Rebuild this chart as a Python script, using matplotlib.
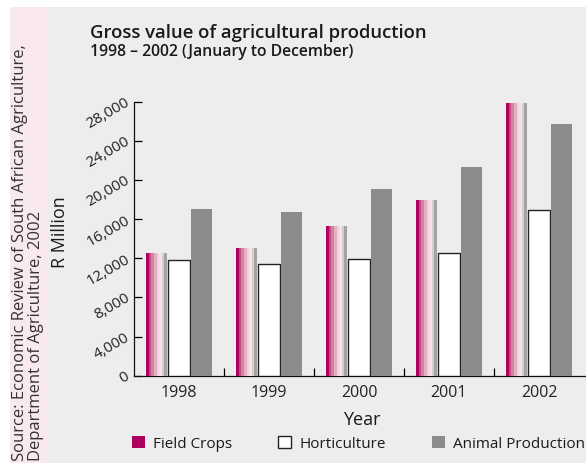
import numpy as np
import matplotlib.pyplot as plt
from matplotlib.patches import Rectangle
from matplotlib.ticker import FuncFormatter

plt.rcParams['font.family'] = ['Open Sans', 'DejaVu Sans']

# %% Data (R million)
years = ['1998', '1999', '2000', '2001', '2002']
field_crops = [12500, 13050, 15300, 17950, 27900]
horticulture = [11800, 11400, 11950, 12550, 16900]
animal_production = [17050, 16750, 19100, 21350, 25750]

W, H = 586, 463
fig = plt.figure(figsize=(W / 100, H / 100), dpi=100)
fig.patch.set_facecolor('white')

# background panels
fig.patches.append(Rectangle((47 / W, 0), 1, 1 - 7 / H, transform=fig.transFigure,
                             facecolor='#ededed', edgecolor='none', zorder=-10))
fig.patches.append(Rectangle((10 / W, 0), 37 / W, 1 - 7 / H, transform=fig.transFigure,
                             facecolor='#f9e9ed', edgecolor='none', zorder=-10))

# axes: 90 px per category, extends past the right edge like the original
px_unit = 90
x0 = 134
y_bot, y_top = 375.7, 101.7
ax = fig.add_axes([x0 / W, 1 - y_bot / H, 5.1 * px_unit / W, (y_bot - y_top) / H])
ax.set_facecolor('none')

x = np.arange(len(years))
bw = 0.235
off = 0.25

# field crops: striped gradient bar, each stripe drawn over the rest of the bar
stripes = ['#b0005f', '#c04d80', '#d2849f', '#e2b0c2', '#efd3dc',
           '#f3e3e8', '#d4cdd0', '#a3a3a3']
sw = bw / len(stripes)
left = x - off - bw / 2
for i, c in enumerate(stripes):
    ax.bar(left + sw * i, field_crops, width=bw - sw * i, align='edge',
           color=c, edgecolor='none', linewidth=0, zorder=3)

ax.bar(x, horticulture, width=bw, color='white', edgecolor='#222222',
       linewidth=1.0, zorder=3)
ax.bar(x + off, animal_production, width=bw, color='#8c8c8c',
       edgecolor='none', zorder=3)

ax.set_xlim(-0.5, 4.6)
ax.set_ylim(0, 28000)

ax.set_yticks(np.arange(0, 28001, 4000))
ax.yaxis.set_major_formatter(FuncFormatter(lambda v, p: f'{int(v):,}'))
ax.tick_params(axis='y', direction='in', length=6, width=0.9, pad=4,
               labelsize=11, labelcolor='#222222')
for lbl in ax.get_yticklabels():
    lbl.set_rotation(30)
    lbl.set_rotation_mode('anchor')
    lbl.set_ha('right')
    lbl.set_va('center')

ax.set_xticks(x)
ax.set_xticklabels(years)
ax.set_xticks(x[:-1] + 0.5, minor=True)
ax.tick_params(axis='x', which='major', length=0, pad=7, labelsize=11.5,
               labelcolor='#222222')
ax.tick_params(axis='x', which='minor', direction='in', length=6, width=0.9)

for s in ['top', 'right']:
    ax.spines[s].set_visible(False)
for s in ['left', 'bottom']:
    ax.spines[s].set_linewidth(0.9)
    ax.spines[s].set_color('#111111')

# titles
fig.text(90 / W, 1 - 38 / H, 'Gross value of agricultural production',
         fontsize=13.3, fontweight='semibold', color='#1a1a1a', va='baseline')
fig.text(90 / W, 1 - 56 / H, '1998 – 2002 (January to December)',
         fontsize=11.3, fontweight='semibold', color='#1a1a1a', va='baseline')

fig.text(60 / W, 1 - 232 / H, 'R Million', rotation=90, fontsize=13,
         color='#1a1a1a', ha='center', va='center')
fig.text(362 / W, 1 - 420 / H, 'Year', fontsize=13, color='#1a1a1a',
         ha='center', va='center')

# source note
fig.text(20 / W, 1 - 461 / H,
         'Source: Economic Review of South African Agriculture,',
         rotation=90, rotation_mode='anchor', ha='left', va='center',
         fontsize=12, color='#333333')
fig.text(36 / W, 1 - 461 / H, 'Department of Agriculture, 2002',
         rotation=90, rotation_mode='anchor', ha='left', va='center',
         fontsize=12, color='#333333')

# legend
handles = [Rectangle((0, 0), 1, 1, facecolor='#b0005f', edgecolor='none'),
           Rectangle((0, 0), 1, 1, facecolor='white', edgecolor='#222222', linewidth=1.0),
           Rectangle((0, 0), 1, 1, facecolor='#8c8c8c', edgecolor='none')]
fig.legend(handles, ['Field Crops', 'Horticulture', 'Animal Production'],
           loc='center left', bbox_to_anchor=(132 / W, 1 - 444 / H), ncol=3,
           frameon=False, fontsize=11, handlelength=0.85, handleheight=0.85,
           handletextpad=0.55, columnspacing=3.0, borderpad=0, borderaxespad=0,
           labelcolor='#1a1a1a')

fig.savefig('out.png', dpi=100)
